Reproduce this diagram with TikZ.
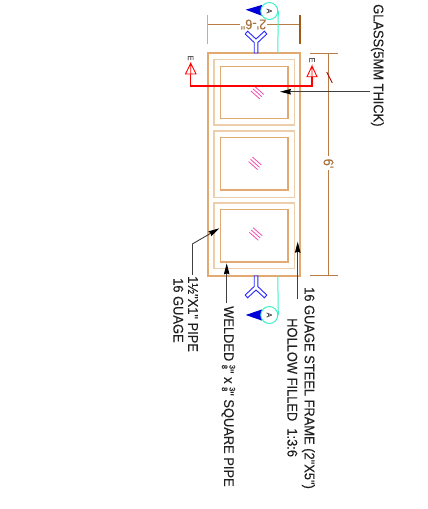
\documentclass[tikz,border=0pt]{standalone}
\usepackage{fontspec}
\newfontfamily\ls[FakeStretch=0.92,FakeBold=0.15]{Liberation Sans}
\usetikzlibrary{arrows.meta}
\definecolor{frameor}{HTML}{E2A970}
\definecolor{framelt}{HTML}{EDCDAA}
\definecolor{dimbr}{HTML}{B87C44}
\definecolor{dimlt}{HTML}{D8A878}
\definecolor{dimdk}{HTML}{A05A14}
\definecolor{secgreen}{HTML}{40F0C8}
\definecolor{txtgray}{HTML}{202020}
\newcommand{\frc}{\raisebox{-0.3ex}{\shortstack{\fontsize{8}{8}\selectfont 3\\[-1pt]\fontsize{8}{8}\selectfont 8}}}
\tikzset{
 x=1pt,y=-1pt,
 outerframe/.style={draw=frameor,line width=1.7pt},
 midframe/.style={draw=framelt,line width=1.5pt},
 innerframe/.style={draw=frameor,line width=1.5pt},
 dimline/.style={draw=dimbr,line width=1pt},
 dimtext/.style={font=\ls\fontsize{14}{14}\selectfont,text=dimbr!90!black,inner sep=0pt},
 label/.style={font=\ls\fontsize{14}{14}\selectfont,text=txtgray,rotate=-90,anchor=west,inner sep=0pt},
 leader/.style={draw=black!75,line width=.9pt,-{Stealth[length=11pt,width=5.5pt,inset=1pt,color=black]}},
 leaderplain/.style={draw=black!75,line width=.9pt},
 hatch/.style={draw=magenta!70,line width=.8pt},
 ymark/.style={draw=blue!85,line width=.9pt,fill=white,line join=miter},
 seccircle/.style={circle,draw=secgreen,line width=1pt,fill=white,minimum size=17pt,inner sep=0pt,font=\ls\fontsize{7.5}{8}\selectfont,text=black!70},
 secline/.style={draw=secgreen,line width=1pt},
 redline/.style={draw=red,line width=1.1pt},
 redhead/.style={draw=red,line width=.9pt,fill=white},
 eletter/.style={font=\ls\fontsize{8}{8}\selectfont,text=black!65,rotate=-90,inner sep=0pt},
}
\begin{document}
\begin{tikzpicture}
\useasboundingbox (0,0) rectangle (428,509);
% frame
\draw[outerframe] (207.7,53.3) rectangle (300,275.7);
\foreach \a/\b in {59.5/125,131/197.3,203/268.3}{\draw[midframe] (214,\a) rectangle (294.7,\b);}
\foreach \a/\b in {66.3/118.7,137.3/190,209.3/262}{\draw[innerframe] (220.7,\a) rectangle (288,\b);}
% glass hatch
\foreach \cx/\cy in {257.3/92.7,255/163.3,255.7/234}{
 \foreach \d in {-3,0,3}{
  \draw[hatch] (\cx-4.5+\d*.65,\cy-4-\d*.75) -- (\cx+4.5+\d*.65,\cy+4-\d*.75);
 }
}
% dimension 2'-6"
\coordinate (dl) at (207.7,24.3);
\coordinate (dr) at (300,24.3);
\coordinate (dgl) at (240,24.3);
\coordinate (dgr) at (267,24.3);
\draw[dimline] (dl) -- (dgl);
\draw[dimline] (dgr) -- (dr);
\draw[draw=dimlt,line width=1.2pt] (207.7,15) -- (207.7,44);
\draw[draw=dimdk,line width=1.1pt] (300,15) -- (300,44);
\node[dimtext,rotate=180] (w) at (253.5,24.5) {2'-6"};
% dimension 6'
\coordinate (ht) at (328.7,53.3);
\coordinate (hb) at (328.7,275.5);
\coordinate (hgt) at (328.7,156);
\coordinate (hgb) at (328.7,170);
\draw[dimline] (ht) -- (hgt);
\draw[dimline] (hgb) -- (hb);
\draw[dimline] (310,53.3) -- (338,53.3);
\draw[dimline] (310,275.5) -- (338,275.5);
\draw[draw=red!70!black,line width=.9pt] (326.7,72) -- (332.3,83);
\node[dimtext,rotate=-90] (h) at (328.5,163.5) {6'};
% section A marks
\draw[ymark] (254.2,53) -- (254.2,42.5) -- (245.2,34) -- (247.6,31.2) -- (256,39) -- (264.4,31.2) -- (266.8,34) -- (257.8,42.5) -- (257.8,53) -- cycle;
\draw[ymark] (254.2,276) -- (254.2,286.5) -- (245.2,295) -- (247.6,297.8) -- (256,290) -- (264.4,297.8) -- (266.8,295) -- (257.8,286.5) -- (257.8,276) -- cycle;
\fill[blue!85!black] (245.7,9.7) -- (261.7,5) -- (264,11) -- (261.7,15.7) -- cycle;
\fill[blue!85!black] (245.7,315) -- (261.7,309.5) -- (264,315) -- (261.7,320.5) -- cycle;
\node[seccircle,rotate=-90] (at) at (269.3,11) {A};
\node[seccircle,rotate=-90] (ab) at (269.3,315) {A};
\coordinate (ct) at (277.8,53);
\coordinate (cb) at (277.8,276);
\draw[secline] (ct) -- (at.north);
\draw[secline] (cb) -- (ab.north);
% section E
\coordinate (el) at (190.7,74);
\coordinate (er) at (312,76.7);
\draw[redline] (el) -- (190.7,86) -- (312,86) -- (er);
\draw[redhead] (el) -- (190.7,63.3) -- (185.5,74) -- (196,74) -- (190.7,63.3);
\draw[redhead] (er) -- (312,66) -- (307,76.7) -- (317,76.7) -- (312,66);
\node[eletter] (e1) at (190.7,58) {E};
\node[eletter] (e2) at (312,60) {E};
% labels
\node[label] (glass) at (377.3,4) {GLASS(5MM THICK)};
\coordinate (glassend) at (370,91.7);
\coordinate (glasstip) at (280,91.7);
\draw[leader] (glassend) -- (glasstip);
\node[label] (steel) at (308.3,287) {16 GUAGE STEEL FRAME (2"X5")};
\node[label] (hollow) at (292.3,318) {HOLLOW FILLED\ \ 1:3:6};
\coordinate (steeltail) at (297.7,299.3);
\coordinate (steeltip) at (297.7,241.7);
\draw[leader] (steeltail) -- (steeltip);
\node[label] (weld) at (228.3,306) {WELDED \frc" x \frc" SQUARE PIPE};
\coordinate (weldtail) at (226.7,303);
\coordinate (weldtip) at (226.7,263.3);
\draw[leader] (weldtail) -- (weldtip);
\node[label] (pipe) at (193,276) {1½"X1" PIPE};
\node[label] (gauge) at (178.3,278) {16 GUAGE};
\coordinate (pipetail) at (192.3,275);
\coordinate (pipeknee) at (192.3,244);
\coordinate (pipetip) at (219.3,228.3);
\draw[leaderplain] (pipetail) -- (pipeknee);
\draw[leader] (pipeknee) -- (pipetip);
\end{tikzpicture}
\end{document}
